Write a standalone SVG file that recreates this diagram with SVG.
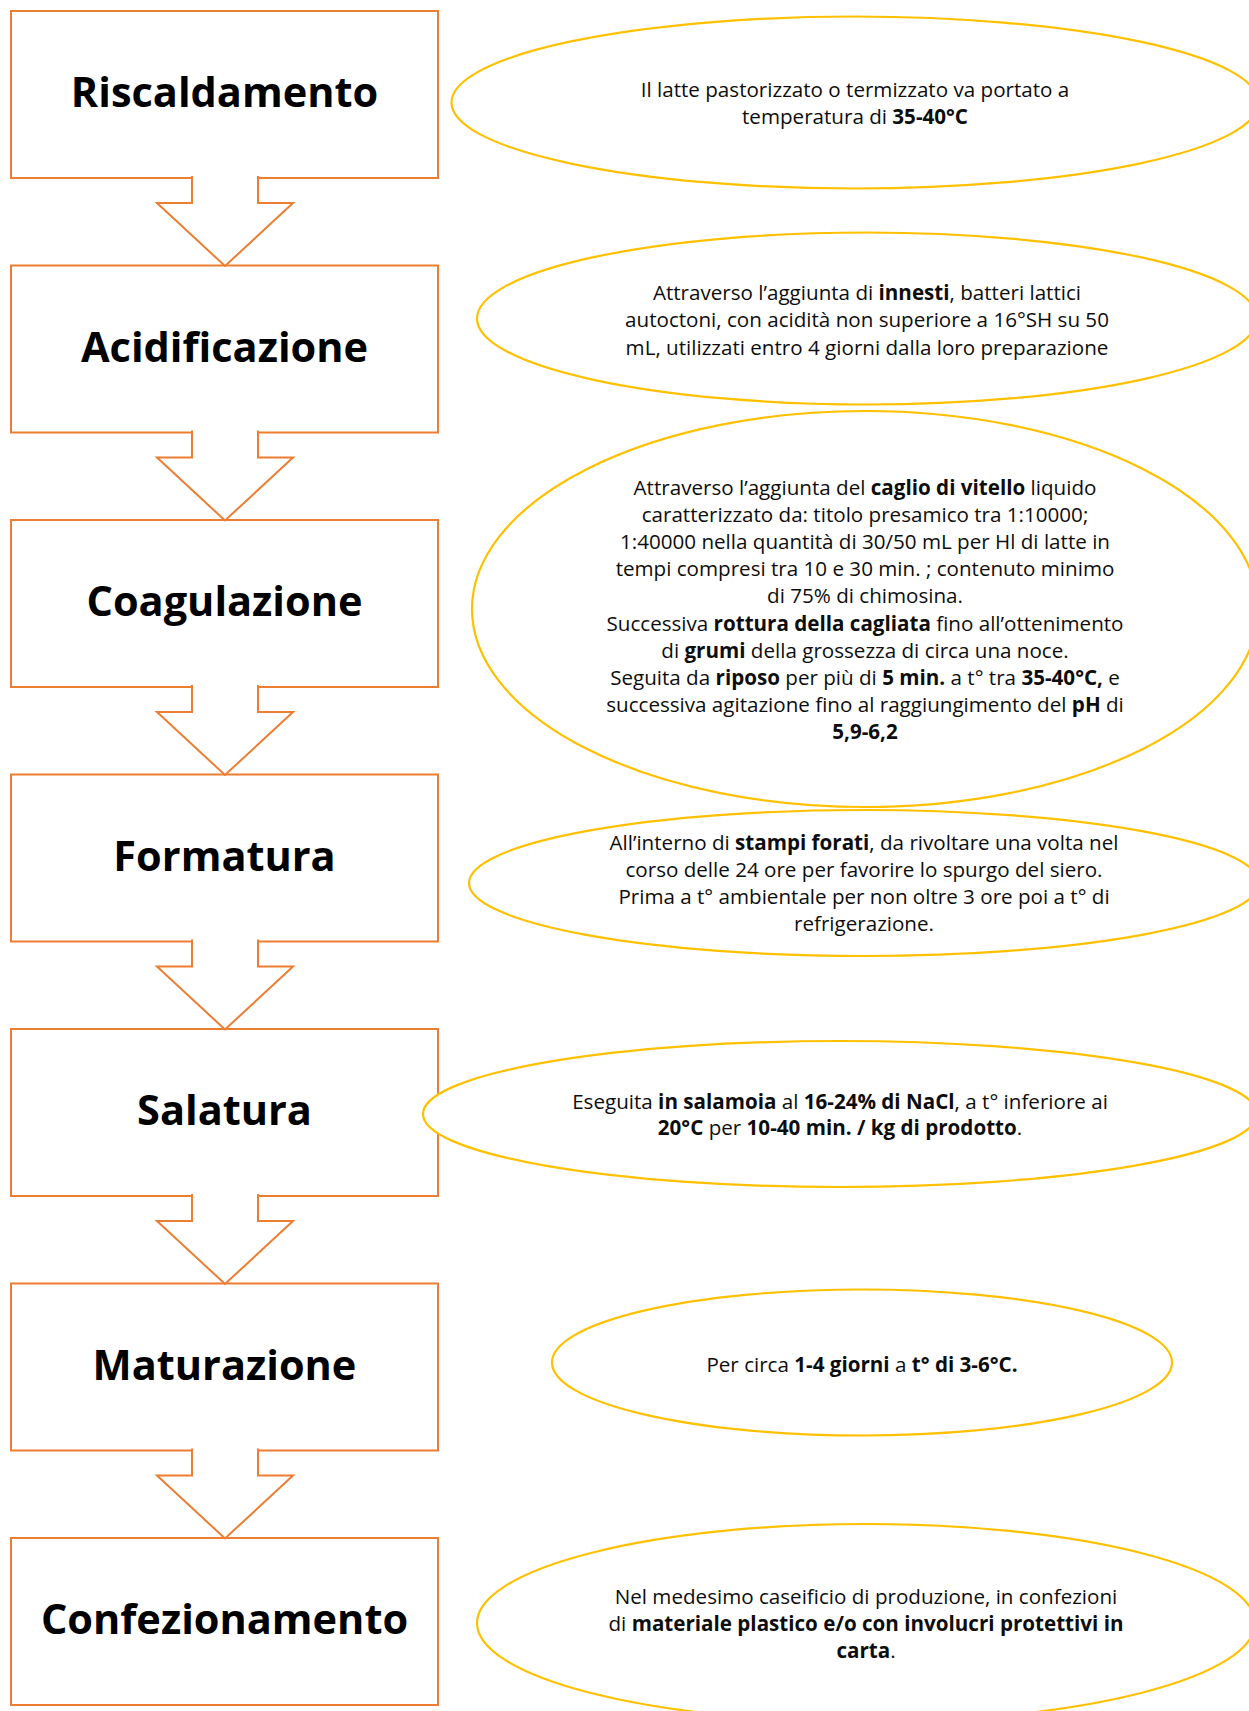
<svg xmlns="http://www.w3.org/2000/svg" width="1249" height="1711" viewBox="0 0 1249 1711">
<style>
.box{fill:#fff;stroke:#ED7D31;stroke-width:2}
.arr{fill:#fff;stroke:#ED7D31;stroke-width:2;stroke-linejoin:miter}
.ell{fill:#fff;stroke:#FFC000;stroke-width:2.2}
.h{font-family:"Open Sans","Noto Sans",sans-serif;font-weight:bold;font-size:41.5px;fill:#000;text-anchor:middle}
.t{font-family:"Open Sans","Noto Sans",sans-serif;font-size:20.6px;fill:#0d0d0d;text-anchor:middle}
.b{font-weight:bold}
</style>
<rect width="1249" height="1711" fill="#fff"/>
<g id="step-riscaldamento"><rect class="box" x="11" y="11" width="427" height="167"/><text class="h" x="224.5" y="107">Riscaldamento</text></g>
<g id="step-acidificazione"><rect class="box" x="11" y="265.5" width="427" height="167"/><text class="h" x="224.5" y="361.5">Acidificazione</text></g>
<g id="step-coagulazione"><rect class="box" x="11" y="520" width="427" height="167"/><text class="h" x="224.5" y="616">Coagulazione</text></g>
<g id="step-formatura"><rect class="box" x="11" y="774.5" width="427" height="167"/><text class="h" x="224.5" y="870.5">Formatura</text></g>
<g id="step-salatura"><rect class="box" x="11" y="1029" width="427" height="167"/><text class="h" x="224.5" y="1125">Salatura</text></g>
<g id="step-maturazione"><rect class="box" x="11" y="1283.5" width="427" height="167"/><text class="h" x="224.5" y="1379.5">Maturazione</text></g>
<g id="step-confezionamento"><rect class="box" x="11" y="1538" width="427" height="167"/><text class="h" x="224.5" y="1634">Confezionamento</text></g>
<g id="connectors">
<path class="arr" d="M192,176 V203 H157 L225,266 L293,203 H258 V176"/>
<path class="arr" d="M192,430.5 V457.5 H157 L225,520.5 L293,457.5 H258 V430.5"/>
<path class="arr" d="M192,685 V712 H157 L225,775 L293,712 H258 V685"/>
<path class="arr" d="M192,939.5 V966.5 H157 L225,1029.5 L293,966.5 H258 V939.5"/>
<path class="arr" d="M192,1194 V1221 H157 L225,1284 L293,1221 H258 V1194"/>
<path class="arr" d="M192,1448.5 V1475.5 H157 L225,1538.5 L293,1475.5 H258 V1448.5"/>
</g>
<g id="note-riscaldamento"><ellipse class="ell" cx="855" cy="102.5" rx="403.5" ry="86"/>
<text class="t" x="855" y="96.7">Il latte pastorizzato o termizzato va portato a</text>
<text class="t" x="855" y="124">temperatura di <tspan class="b">35-40°C</tspan></text></g>
<g id="note-acidificazione"><ellipse class="ell" cx="867" cy="318.5" rx="390" ry="86"/>
<text class="t" x="867" y="300">Attraverso l’aggiunta di <tspan class="b">innesti</tspan>, batteri lattici</text>
<text class="t" x="867" y="327.3">autoctoni, con acidità non superiore a 16°SH su 50</text>
<text class="t" x="867" y="354.6">mL, utilizzati entro 4 giorni dalla loro preparazione</text></g>
<g id="note-coagulazione"><ellipse class="ell" cx="865" cy="609" rx="393" ry="198"/>
<text class="t" x="865" y="495">Attraverso l’aggiunta del <tspan class="b">caglio di vitello</tspan> liquido</text>
<text class="t" x="865" y="522.1">caratterizzato da: titolo presamico tra 1:10000;</text>
<text class="t" x="865" y="549.2">1:40000 nella quantità di 30/50 mL per Hl di latte in</text>
<text class="t" x="865" y="576.3">tempi compresi tra 10 e 30 min. ; contenuto minimo</text>
<text class="t" x="865" y="603.4">di 75% di chimosina.</text>
<text class="t" x="865" y="630.5">Successiva <tspan class="b">rottura della cagliata</tspan> fino all’ottenimento</text>
<text class="t" x="865" y="657.6">di <tspan class="b">grumi</tspan> della grossezza di circa una noce.</text>
<text class="t" x="865" y="684.7">Seguita da <tspan class="b">riposo</tspan> per più di <tspan class="b">5 min.</tspan> a t° tra <tspan class="b">35-40°C,</tspan> e</text>
<text class="t" x="865" y="711.8">successiva agitazione fino al raggiungimento del <tspan class="b">pH</tspan> di</text>
<text class="t" x="865" y="739"><tspan class="b">5,9-6,2</tspan></text></g>
<g id="note-formatura"><ellipse class="ell" cx="864" cy="883" rx="395" ry="73"/>
<text class="t" x="864" y="850">All’interno di <tspan class="b">stampi forati</tspan>, da rivoltare una volta nel</text>
<text class="t" x="864" y="877">corso delle 24 ore per favorire lo spurgo del siero.</text>
<text class="t" x="864" y="904">Prima a t° ambientale per non oltre 3 ore poi a t° di</text>
<text class="t" x="864" y="931">refrigerazione.</text></g>
<g id="note-salatura"><ellipse class="ell" cx="840" cy="1114" rx="417" ry="73"/>
<text class="t" x="840" y="1108.5">Eseguita <tspan class="b">in salamoia</tspan> al <tspan class="b">16-24% di NaCl</tspan>, a t° inferiore ai</text>
<text class="t" x="840" y="1135"><tspan class="b">20°C</tspan> per <tspan class="b">10-40 min. / kg di prodotto</tspan>.</text></g>
<g id="note-maturazione"><ellipse class="ell" cx="862" cy="1362.5" rx="310" ry="73"/>
<text class="t" x="862" y="1371.7">Per circa <tspan class="b">1-4 giorni</tspan> a <tspan class="b">t° di 3-6°C.</tspan></text></g>
<g id="note-confezionamento"><ellipse class="ell" cx="866" cy="1623" rx="389" ry="99"/>
<text class="t" x="866" y="1604">Nel medesimo caseificio di produzione, in confezioni</text>
<text class="t" x="866" y="1631">di <tspan class="b">materiale plastico e/o con involucri protettivi in</tspan></text>
<text class="t" x="866" y="1658"><tspan class="b">carta</tspan>.</text></g>
</svg>
